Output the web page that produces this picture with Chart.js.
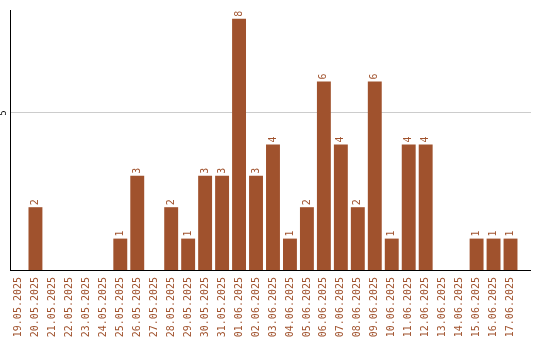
<!DOCTYPE html>
<html>
<head>
<meta charset="utf-8">
<script src="https://cdn.jsdelivr.net/npm/chart.js@4/dist/chart.umd.min.js"></script>
<style>
  html, body { margin: 0; padding: 0; background: #fff; }
  #wrap { width: 540px; height: 340px; }
</style>
</head>
<body>
<div id="wrap"><canvas id="myChart" width="540" height="340"></canvas></div>
<script>
// Dates on the x axis
var dates = ['19.05.2025', '20.05.2025', '21.05.2025', '22.05.2025', '23.05.2025', '24.05.2025',
  '25.05.2025', '26.05.2025', '27.05.2025', '28.05.2025', '29.05.2025', '30.05.2025', '31.05.2025',
  '01.06.2025', '02.06.2025', '03.06.2025', '04.06.2025', '05.06.2025', '06.06.2025', '07.06.2025',
  '08.06.2025', '09.06.2025', '10.06.2025', '11.06.2025', '12.06.2025', '13.06.2025', '14.06.2025',
  '15.06.2025', '16.06.2025', '17.06.2025'];

// Counts per day
var counts = [0, 2, 0, 0, 0, 0, 1, 3, 0, 2, 1, 3, 3, 8, 3, 4, 1, 2, 6, 4, 2, 6, 1, 4, 4, 0, 0, 1, 1, 1];

// Y tick shown
var yTicks = [5];

var brown = '#a0522d';
var labelFont = '10px "DejaVu Sans Mono", monospace';

// The axis and grid lines run a bit past the last bar
var tailLength = 12;

// same pixel snapping Chart.js uses for 1px lines
function align(p) { return Math.round(p - 0.5) + 0.5; }

// Draw value labels above bars, the rotated y tick and the line tails
var extras = {
    id: 'extras',
    afterDraw: function(chart) {
        var ctx = chart.ctx;
        var area = chart.chartArea;
        var y = chart.scales.y;
        ctx.save();
        // line tails
        ctx.lineWidth = 1;
        ctx.strokeStyle = '#cccccc';
        yTicks.forEach(function(t) {
            var py = align(y.getPixelForValue(t));
            ctx.beginPath();
            ctx.moveTo(area.right, py);
            ctx.lineTo(area.right + tailLength, py);
            ctx.stroke();
        });
        ctx.strokeStyle = '#000';
        var by = align(area.bottom);
        ctx.beginPath();
        ctx.moveTo(area.right - 1, by);
        ctx.lineTo(area.right + tailLength, by);
        ctx.stroke();

        // value labels
        var meta = chart.getDatasetMeta(0);
        ctx.font = labelFont;
        ctx.fillStyle = brown;
        ctx.textAlign = 'left';
        ctx.textBaseline = 'middle';
        meta.data.forEach(function(bar, i) {
            if (!counts[i]) return;
            ctx.save();
            ctx.translate(bar.x, bar.y - 2);
            ctx.rotate(-Math.PI / 2);
            ctx.fillText(String(counts[i]), 0, 0);
            ctx.restore();
        });

        // y tick label
        ctx.fillStyle = '#000';
        ctx.font = '8px "DejaVu Sans", sans-serif';
        ctx.textAlign = 'center';
        yTicks.forEach(function(t) {
            ctx.save();
            ctx.translate(y.left + 4, y.getPixelForValue(t));
            ctx.rotate(-Math.PI / 2);
            ctx.fillText(String(t), 0, 0);
            ctx.restore();
        });
        ctx.restore();
    }
};

var ctx = document.getElementById('myChart').getContext('2d');
var myChart = new Chart(ctx, {
    type: 'bar',
    data: {
        labels: dates,
        datasets: [{
            data: counts,
            backgroundColor: brown,
            borderWidth: 0,
            barPercentage: 0.82,
            categoryPercentage: 1
        }]
    },
    options: {
        responsive: false,
        animation: false,
        layout: { padding: { top: 10, right: 21, left: 0, bottom: 0 } },
        plugins: { legend: { display: false }, tooltip: { enabled: false } },
        scales: {
            x: {
                grid: { display: false, drawTicks: false },
                border: { color: '#000', width: 1 },
                ticks: {
                    color: brown,
                    font: { family: '"DejaVu Sans Mono", monospace', size: 10 },
                    minRotation: 90,
                    maxRotation: 90,
                    autoSkip: false,
                    padding: 7
                },
                afterFit: function(scale) { scale.height = 70; }
            },
            y: {
                min: 0,
                max: 8.28,
                grid: { color: '#cccccc', drawTicks: false },
                border: { color: '#000', width: 1 },
                ticks: { display: false },
                afterBuildTicks: function(scale) {
                    scale.ticks = yTicks.map(function(v) { return { value: v }; });
                },
                afterFit: function(scale) { scale.width = 10; }
            }
        }
    },
    plugins: [extras]
});
</script>
</body>
</html>
